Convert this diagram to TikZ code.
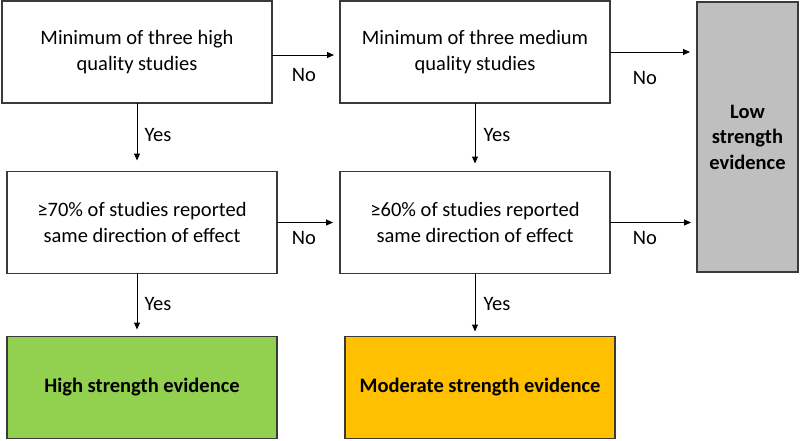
\documentclass[tikz,border=0pt]{standalone}
\usepackage{fontspec}
\setmainfont{Carlito}
\usetikzlibrary{arrows.meta}
\definecolor{bordercol}{HTML}{3A3A3A}
\definecolor{greenfill}{HTML}{92D050}
\definecolor{orangefill}{HTML}{FFC000}
\definecolor{greyfill}{HTML}{BFBFBF}
\tikzset{
  box/.style={draw=bordercol, line width=1.3pt, minimum width=270pt, minimum height=102pt,
    inner sep=0pt, outer sep=0pt, align=center, font=\fontsize{20.5}{25.5}\selectfont},
  resbox/.style={box, font=\fontsize{20.5}{25.5}\selectfont\bfseries},
  arr/.style={draw=black, line width=1pt, -{Triangle[length=7pt,width=6pt]}},
  lbl/.style={inner sep=0pt, font=\fontsize{20.5}{24}\selectfont}
}
\begin{document}
\begin{tikzpicture}[x=1pt,y=-1pt]
\useasboundingbox (0,0) rectangle (800,440);
\node[box] (A) at (137,52) {Minimum of three high\\quality studies};
\node[box] (B) at (475,52) {Minimum of three medium\\quality studies};
\node[box] (C) at (142,222.5) {≥70\% of studies reported\\same direction of effect};
\node[box] (D) at (475,222.5) {≥60\% of studies reported\\same direction of effect};
\node[resbox, fill=greenfill] (E) at (142,387.5) {High strength evidence};
\node[resbox, fill=orangefill] (F) at (480,387.5) {Moderate strength evidence};
\node[resbox, fill=greyfill, minimum width=101pt, minimum height=270pt] (G) at (747.5,137) {Low\\strength\\evidence};

\draw[arr, shorten >=6pt] ([yshift=-3pt]A.east) -- ([yshift=-3pt]B.west);
\draw[arr, shorten >=7pt] (B.east) -- (B.east -| G.west);
\draw[arr, shorten >=7pt] (C.east) -- (C.east -| D.west);
\draw[arr, shorten >=6pt] (D.east) -- (D.east -| G.west);
\draw[arr, shorten >=11pt] (A.south) -- (A.south |- C.north);
\draw[arr, shorten >=8pt] (B.south) -- (B.south |- D.north);
\draw[arr, shorten >=7pt] (A.south |- C.south) -- (A.south |- E.north);
\draw[arr, shorten >=5pt] (D.south) -- (D.south |- F.north);

\node[lbl] (n1) at (304,75) {No};
\node[lbl] (n2) at (645,78) {No};
\node[lbl] (n3) at (304,238) {No};
\node[lbl] (n4) at (645,238) {No};
\node[lbl] (y1) at (158,135) {Yes};
\node[lbl] (y2) at (497,135) {Yes};
\node[lbl] (y3) at (158,304) {Yes};
\node[lbl] (y4) at (497,304) {Yes};
\end{tikzpicture}
\end{document}
